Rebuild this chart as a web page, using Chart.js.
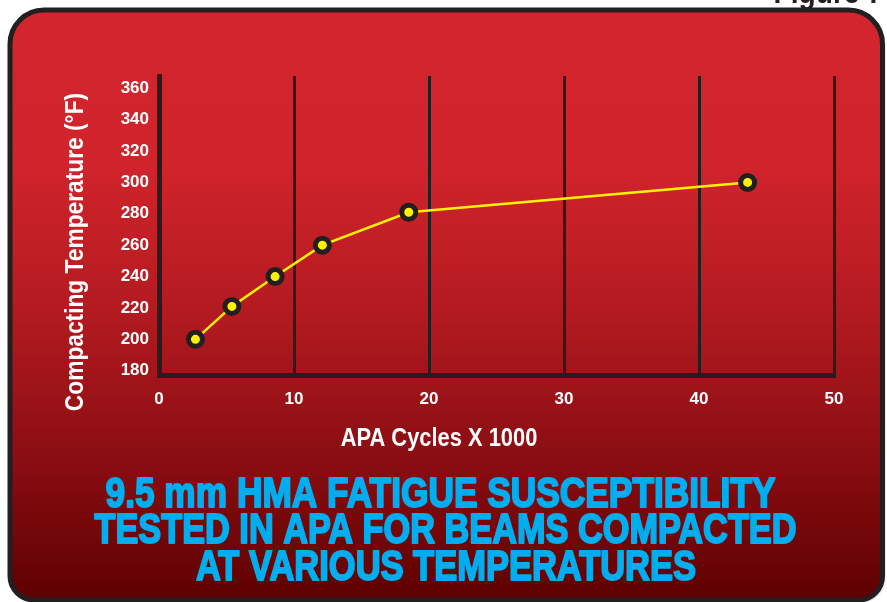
<!DOCTYPE html>
<html>
<head>
<meta charset="utf-8">
<script src="https://cdn.jsdelivr.net/npm/chart.js@4/dist/chart.umd.min.js"></script>
<style>
  html, body { margin: 0; padding: 0; background: #ffffff; }
  #wrap { width: 887px; height: 602px; }
</style>
</head>
<body>
<div id="wrap"><canvas id="c" width="887" height="602"></canvas></div>
<script>
// APA fatigue results for 9.5 mm HMA beams
const cyclesK = [2.7, 5.4, 8.6, 12.1, 18.5, 43.6];   // APA cycles (x 1000)
const tempsF  = [200, 221, 240, 260, 281, 300];      // compacting temperature, °F
const xTicks  = [0, 10, 20, 30, 40, 50];
const yTicks  = [180, 200, 220, 240, 260, 280, 300, 320, 340, 360];

const figureLabel = 'Figure 7';
const xTitle = 'APA Cycles X 1000';
const yTitle = 'Compacting Temperature (°F)';
const headline = [
  '9.5 mm HMA FATIGUE SUSCEPTIBILITY',
  'TESTED IN APA FOR BEAMS COMPACTED',
  'AT VARIOUS TEMPERATURES'
];

const FONT = "'Liberation Sans', Arial, sans-serif";
const INK = '#231f20';

function roundRectPath(ctx, x, y, w, h, rt, rb) {
  ctx.beginPath();
  ctx.moveTo(x + rt, y);
  ctx.lineTo(x + w - rt, y);
  ctx.arcTo(x + w, y, x + w, y + rt, rt);
  ctx.lineTo(x + w, y + h - rb);
  ctx.arcTo(x + w, y + h, x + w - rb, y + h, rb);
  ctx.lineTo(x + rb, y + h);
  ctx.arcTo(x, y + h, x, y + h - rb, rb);
  ctx.lineTo(x, y + rt);
  ctx.arcTo(x, y, x + rt, y, rt);
  ctx.closePath();
}

// condensed text: draws with a horizontal squeeze
function condensedText(ctx, text, x, y, font, squeeze, color, align, stroke) {
  ctx.save();
  ctx.font = font;
  ctx.fillStyle = color;
  ctx.textBaseline = 'alphabetic';
  ctx.textAlign = align;
  ctx.translate(x, y);
  ctx.scale(squeeze, 1);
  ctx.fillText(text, 0, 0);
  if (stroke) {
    ctx.strokeStyle = color;
    ctx.lineWidth = stroke;
    ctx.lineJoin = 'round';
    ctx.strokeText(text, 0, 0);
  }
  ctx.restore();
}

// condensed text squeezed to span a given width
function fittedText(ctx, text, cx, y, font, width, color, stroke) {
  ctx.save();
  ctx.font = font;
  const natural = ctx.measureText(text).width;
  ctx.restore();
  condensedText(ctx, text, cx, y, font, width / natural, color, 'center', stroke);
}

const panelPlugin = {
  id: 'panel',
  beforeDraw(chart) {
    const ctx = chart.ctx;
    ctx.save();
    ctx.fillStyle = '#ffffff';
    ctx.fillRect(0, 0, chart.width, chart.height);

    const g = ctx.createLinearGradient(0, 10, 0, 600);
    g.addColorStop(0.00, '#d2252d');
    g.addColorStop(0.27, '#d0232b');
    g.addColorStop(0.50, '#b41b21');
    g.addColorStop(0.75, '#8c0e13');
    g.addColorStop(1.00, '#5e0000');

    roundRectPath(ctx, 10, 10, 872.5, 590, 34, 24);
    ctx.shadowColor = 'rgba(0,0,0,0.35)';
    ctx.shadowOffsetX = 2;
    ctx.shadowOffsetY = 2;
    ctx.shadowBlur = 2;
    ctx.fillStyle = g;
    ctx.fill();
    ctx.shadowColor = 'transparent';
    ctx.lineWidth = 5;
    ctx.strokeStyle = INK;
    ctx.stroke();

    condensedText(ctx, figureLabel, 883, 3, 'bold 32px ' + FONT, 0.88, INK, 'right');
    ctx.restore();
  },
  afterDraw(chart) {
    const ctx = chart.ctx;
    // axis titles
    condensedText(ctx, xTitle, 439, 446, 'bold 25px ' + FONT, 0.875, '#ffffff', 'center');
    ctx.save();
    ctx.translate(83, 252);
    ctx.rotate(-Math.PI / 2);
    condensedText(ctx, yTitle, 0, 0, 'bold 26px ' + FONT, 0.875, '#ffffff', 'center');
    ctx.restore();

    // headline, three centred lines
    const centers = [440.5, 445.5, 446];
    const widths = [670, 702, 500];
    headline.forEach((line, i) => {
      fittedText(ctx, line, centers[i], 507 + i * 36.3, 'bold 42px ' + FONT, widths[i], '#00aeef', 2);
    });
  }
};

new Chart(document.getElementById('c'), {
  type: 'scatter',
  data: {
    datasets: [{
      data: cyclesK.map((x, i) => ({ x: x, y: tempsF[i] })),
      showLine: true,
      borderColor: '#fff200',
      borderWidth: 2.5,
      pointRadius: 7,
      pointHoverRadius: 7,
      pointBorderWidth: 5,
      pointBackgroundColor: '#fff200',
      pointBorderColor: INK,
      tension: 0
    }]
  },
  options: {
    responsive: false,
    animation: false,
    devicePixelRatio: 1,
    layout: { padding: { top: 76, right: 53, left: 0, bottom: 0 } },
    plugins: {
      legend: { display: false },
      tooltip: { enabled: false },
      title: { display: false }
    },
    scales: {
      x: {
        type: 'linear',
        min: 0,
        max: 50,
        afterBuildTicks: (s) => { s.ticks = xTicks.map(v => ({ value: v })); },
        afterFit: (s) => { s.height = 227; },
        grid: { color: INK, lineWidth: 3, drawTicks: false },
        border: { display: true, color: INK, width: 5 },
        ticks: { color: '#ffffff', font: { family: FONT, size: 17, weight: 'bold' }, padding: 14, maxRotation: 0 }
      },
      y: {
        type: 'linear',
        min: 177.26,
        max: 367.84,
        afterBuildTicks: (s) => { s.ticks = yTicks.map(v => ({ value: v })); },
        afterFit: (s) => { s.width = 159; },
        grid: { display: false, drawTicks: false },
        border: { display: true, color: INK, width: 5 },
        ticks: { color: '#ffffff', font: { family: FONT, size: 17, weight: 'bold' }, padding: 10 }
      }
    }
  },
  plugins: [panelPlugin]
});
</script>
</body>
</html>
